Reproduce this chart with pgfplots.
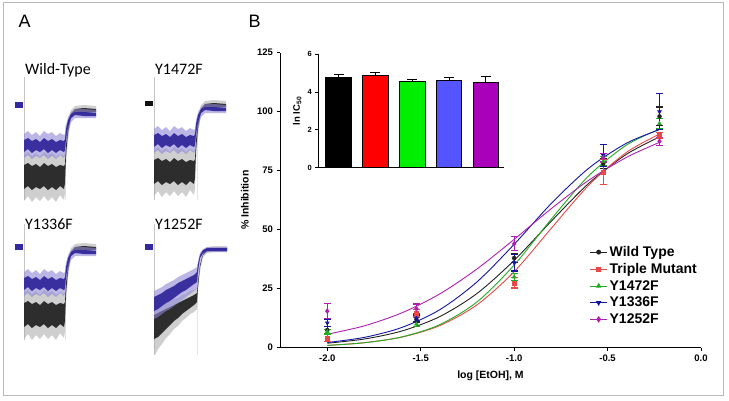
\documentclass[border=0pt]{standalone}
\usepackage{pgfplots}
\pgfplotsset{compat=1.18}
\usepackage{pgfplotstable}
\usepackage{fontspec}
\setmainfont{Liberation Sans}
\newfontfamily\carlito{Carlito}
\definecolor{cWT}{HTML}{222222}
\definecolor{cTM}{HTML}{E84848}
\definecolor{cYa}{HTML}{22AA22}
\definecolor{cYb}{HTML}{1515A5}
\definecolor{cYc}{HTML}{B020B0}
\definecolor{trBlue}{HTML}{33289C}
\definecolor{trBlueL}{HTML}{8E86D6}
\definecolor{trBlk}{HTML}{111111}
\definecolor{trGray}{HTML}{A8A8A8}
\definecolor{barG}{HTML}{00EE00}
\definecolor{barB}{HTML}{5555FF}
\definecolor{barM}{HTML}{AA00BB}

% ---------- panel A trace shapes (local pixel coords: t right, v down) ----------
\pgfplotstableread{
t v
0 50
4 47
8 51
12 48
16 52
20 47
24 50
28 48
32 52
36 49
40 51
41 50
42 33
44 16
47 5
51 1
60 0
72 1
72 9
60 10
51 9
47 14
44 35
42 60
41 88
40 95
36 90
32 97
28 92
24 96
20 91
16 96
12 92
8 97
4 91
0 96
}\wtBO
\pgfplotstableread{
t v
0 60
4 58
8 61
12 59
16 62
20 58
24 61
28 59
32 62
36 60
40 61
41 59
42 40
44 20
47 9
51 4
60 3
72 4
72 7
60 8
51 7
47 11
44 28
42 50
41 78
40 84
36 81
32 85
28 82
24 85
20 81
16 84
12 82
8 85
4 81
0 84
}\wtBI
\pgfplotstableread{
t v
0 29
4 26
8 30
12 27
16 31
20 26
24 29
28 27
32 31
36 28
40 30
41 29
42 20
44 12
47 7
51 4
60 4
72 5
72 13
60 13
51 13
47 17
44 28
42 40
41 50
40 53
36 50
32 54
28 51
24 54
20 50
16 53
12 51
8 54
4 50
0 53
}\wtLO
\pgfplotstableread{
t v
0 35
4 33
8 36
12 34
16 37
20 33
24 36
28 34
32 37
36 35
40 36
41 34
42 24
44 15
47 9
51 7
60 7
72 8
72 11
60 11
51 10
47 13
44 22
42 34
41 45
40 47
36 45
32 48
28 45
24 48
20 44
16 47
12 45
8 48
4 44
0 47
}\wtLI
\pgfplotstableread{
t v
0 62
4 58
8 58
12 55
16 55
20 52
24 51
28 48
32 47
36 44
40 43
43 41
44 30
46 15
49 5
53 0
60 -1
73 -1
73 5
60 5
53 6
49 10
46 25
44 45
43 62
40 65
36 67
32 71
28 74
24 79
20 82
16 87
12 91
8 97
4 102
1 108
0 100
}\ybBO
\pgfplotstableread{
t v
0 68
4 66
8 64
12 62
16 60
20 58
24 56
28 54
32 52
36 50
40 48
43 46
44 35
46 18
49 7
53 2
60 1
73 1
73 3
60 3
53 4
49 8
46 20
44 40
43 55
40 58
36 61
32 64
28 67
24 71
20 74
16 78
12 82
8 86
4 90
0 92
}\ybBI
\pgfplotstableread{
t v
0 44
4 42
8 40
12 37
16 35
20 33
24 30
28 28
32 26
36 24
40 22
43 20
44 14
46 6
49 2
53 0
60 0
73 0
73 5
60 5
53 5
49 8
46 14
44 30
43 41
40 44
36 47
32 50
28 53
24 56
20 59
16 62
12 64
8 67
4 70
0 72
}\ybLO
\pgfplotstableread{
t v
0 50
4 48
8 46
12 43
16 41
20 39
24 36
28 34
32 32
36 30
40 28
43 25
44 17
46 8
49 3
53 1
60 1
73 1
73 4
60 4
53 4
49 6
46 11
44 24
43 35
40 37
36 40
32 43
28 45
24 48
20 51
16 54
12 56
8 59
4 62
0 64
}\ybLI

% ---------- panel B data ----------
\pgfplotstableread{
x y e
-2.0 7.5 1.5
-1.523 12 1.5
-1.0 38 2
-0.523 78 2
-0.222 98 4
}\ptsWT
\pgfplotstableread{
x y e
-2.0 4.2 1.5
-1.523 14.5 1.5
-1.0 27.5 2.2
-0.523 74.5 5.4
-0.222 90 1.2
}\ptsTM
\pgfplotstableread{
x y e
-2.0 6.8 1
-1.523 10 1
-1.0 30 1.5
-0.523 79 2
-0.222 95 2
}\ptsYa
\pgfplotstableread{
x y e
-2.0 10.5 1.5
-1.523 12.5 1.5
-1.0 36 3.5
-0.523 81.5 4.6
-0.222 100 7.6
}\ptsYb
\pgfplotstableread{
x y e
-2.0 15.5 3.3
-1.523 16.5 2
-1.0 44 3
-0.523 80.5 1.8
-0.222 87.5 1.7
}\ptsYc
% fitted curves
\pgfplotstableread{
x y
-2.0 1.9
-1.8 3.7
-1.6 7.1
-1.4 13.1
-1.2 22.9
-1.0 37.0
-0.8 53.7
-0.6 69.7
-0.4 81.9
-0.222 89.3
}\crvWT
\pgfplotstableread{
x y
-2.0 1.0
-1.8 2.15
-1.6 4.5
-1.4 9.3
-1.2 18.1
-1.0 32.2
-0.8 50.7
-0.6 68.9
-0.4 82.7
-0.222 90.5
}\crvTM
\pgfplotstableread{
x y
-2.0 0.95
-1.8 2.1
-1.6 4.6
-1.4 9.7
-1.2 19.3
-1.0 35.0
-0.8 54.6
-0.6 72.9
-0.4 85.8
-0.222 92.6
}\crvYa
\pgfplotstableread{
x y
-2.0 2.2
-1.8 4.4
-1.6 8.6
-1.4 16.0
-1.2 27.8
-1.0 43.8
-0.8 61.2
-0.6 76.1
-0.4 86.6
-0.222 92.4
}\crvYb
\pgfplotstableread{
x y
-2.0 5.7
-1.8 9.3
-1.6 14.8
-1.4 22.7
-1.2 33.3
-1.0 45.9
-0.8 59.0
-0.6 71.0
-0.4 80.6
-0.222 87.0
}\crvYc

\newcommand{\trace}[6]{%
 \addplot[fill=trGray,draw=none,fill opacity=0.55] table[x expr=\thisrow{t}+#1, y expr=\thisrow{v}+#2] {#3};
 \addplot[fill=trBlk,draw=none,fill opacity=0.85] table[x expr=\thisrow{t}+#1, y expr=\thisrow{v}+#2] {#4};
 \addplot[fill=trBlueL,draw=none,fill opacity=0.6] table[x expr=\thisrow{t}+#1, y expr=\thisrow{v}+#2] {#5};
 \addplot[fill=trBlue,draw=none,fill opacity=0.95] table[x expr=\thisrow{t}+#1, y expr=\thisrow{v}+#2] {#6};
}

\begin{document}
\begin{tikzpicture}
\useasboundingbox (0,0) rectangle (729pt,400pt);
\draw[color=gray!55, line width=1pt] (3.3pt,4.5pt) rectangle (723.5pt,397.3pt);

% ================= Panel A =================
\begin{axis}[at={(0pt,0pt)}, anchor=south west, scale only axis, width=729pt, height=400pt,
  xmin=0, xmax=729, ymin=0, ymax=400, y dir=reverse, hide axis, clip=false]
 % stimulus markers
 \addplot[gray!45, line width=0.5pt] coordinates {(24,77) (24,200)};
 \addplot[gray!45, line width=0.5pt] coordinates {(154,77) (154,200)};
 \addplot[gray!45, line width=0.5pt] coordinates {(24,224) (24,340)};
 \addplot[gray!45, line width=0.5pt] coordinates {(154,224) (154,355)};
 \addplot[gray!20, line width=0.5pt] coordinates {(65,125) (65,200)};
 \addplot[gray!20, line width=0.5pt] coordinates {(197,120) (197,200)};
 \addplot[gray!20, line width=0.5pt] coordinates {(65,265) (65,340)};
 \addplot[gray!20, line width=0.5pt] coordinates {(197,265) (197,355)};
 % baselines
 \addplot[fill=trBlue, draw=none] coordinates {(15,102) (23,102) (23,108) (15,108)};
 \addplot[fill=trBlk, draw=none] coordinates {(145,101) (153,101) (153,106) (145,106)};
 \addplot[fill=trBlue, draw=none] coordinates {(15,244) (23,244) (23,250) (15,250)};
 \addplot[fill=trBlue, draw=none] coordinates {(145,244) (153,244) (153,250) (145,250)};
 % traces
 \trace{24}{105}{\wtBO}{\wtBI}{\wtLO}{\wtLI}
 \trace{154}{100}{\wtBO}{\wtBI}{\wtLO}{\wtLI}
 \trace{24}{243}{\wtBO}{\wtBI}{\wtLO}{\wtLI}
 \trace{154}{247}{\ybBO}{\ybBI}{\ybLO}{\ybLI}
\end{axis}
\node[anchor=base west, font=\fontsize{18}{20}\selectfont] at (15pt,372pt) {A};
\node[anchor=base west, font=\fontsize{18}{20}\selectfont] at (245pt,372pt) {B};
\node[anchor=base west, inner sep=0pt, font=\carlito\fontsize{16}{18}\selectfont] at (25pt,325pt) {Wild-Type};
\node[anchor=base west, inner sep=0pt, font=\carlito\fontsize{16}{18}\selectfont] at (155pt,325pt) {Y1472F};
\node[anchor=base west, inner sep=0pt, font=\carlito\fontsize{16}{18}\selectfont] at (25pt,171pt) {Y1336F};
\node[anchor=base west, inner sep=0pt, font=\carlito\fontsize{16}{18}\selectfont] at (155pt,171pt) {Y1252F};

% ================= Panel B main =================
\begin{axis}[at={(280pt,52.3pt)}, anchor=south west, scale only axis, width=421pt, height=295pt,
  xmin=-2.253, xmax=0, ymin=0, ymax=125,
  axis x line*=bottom, axis y line*=left, axis line style={line width=0.9pt, -},
  tick align=outside, major tick length=3.5pt, tick style={line width=0.9pt, black},
  xtick={-2,-1.5,-1,-0.5,0}, xticklabels={-2.0,-1.5,-1.0,-0.5,0.0},
  ytick={0,25,50,75,100,125},
  tick label style={font=\bfseries\fontsize{9.5}{11}\selectfont},
  /pgf/number format/assume math mode=true,
  xlabel={log [EtOH], M}, ylabel={\% Inhibition},
  label style={font=\bfseries\fontsize{10.5}{12}\selectfont},
  xlabel style={at={(axis description cs:0.5,-0.068)}, anchor=north},
  ylabel style={at={(axis description cs:-0.066,0.5)}, anchor=south},
  legend style={draw=none, fill=none, at={(axis description cs:0.728,0.358)}, anchor=north west,
    font=\bfseries\fontsize{14}{16}\selectfont, row sep=1.4pt},
  legend cell align=left]
 \addplot[cWT, line width=0.9pt, smooth, forget plot] table {\crvWT};
 \addplot[cTM, line width=0.9pt, smooth, forget plot] table {\crvTM};
 \addplot[cYa, line width=0.9pt, smooth, forget plot] table {\crvYa};
 \addplot[cYb, line width=0.9pt, smooth, forget plot] table {\crvYb};
 \addplot[cYc, line width=0.9pt, smooth, forget plot] table {\crvYc};
 \addplot[cWT, only marks, mark=*, mark size=2pt, forget plot,
   error bars/.cd, y dir=both, y explicit, error bar style={cWT, line width=1.1pt},
   error mark options={rotate=90, cWT, mark size=3.5pt, line width=1.1pt}] table[x=x, y=y, y error=e] {\ptsWT};
 \addplot[cTM, only marks, mark=square*, mark size=2pt, forget plot,
   error bars/.cd, y dir=both, y explicit, error bar style={cTM, line width=1.1pt},
   error mark options={rotate=90, cTM, mark size=3.5pt, line width=1.1pt}] table[x=x, y=y, y error=e] {\ptsTM};
 \addplot[cYa, only marks, mark=triangle*, mark size=2.3pt, forget plot,
   error bars/.cd, y dir=both, y explicit, error bar style={cYa, line width=1.1pt},
   error mark options={rotate=90, cYa, mark size=3.5pt, line width=1.1pt}] table[x=x, y=y, y error=e] {\ptsYa};
 \addplot[cYb, only marks, mark=triangle*, mark options={rotate=180}, mark size=2.3pt, forget plot,
   error bars/.cd, y dir=both, y explicit, error bar style={cYb, line width=1.1pt},
   error mark options={rotate=90, cYb, mark size=3.5pt, line width=1.1pt}] table[x=x, y=y, y error=e] {\ptsYb};
 \addplot[cYc, only marks, mark=diamond*, mark size=2.5pt, forget plot,
   error bars/.cd, y dir=both, y explicit, error bar style={cYc, line width=1.1pt},
   error mark options={rotate=90, cYc, mark size=3.5pt, line width=1.1pt}] table[x=x, y=y, y error=e] {\ptsYc};
 \addlegendimage{cWT, line width=0.9pt, mark=*, mark size=2pt}
 \addlegendentry{Wild Type}
 \addlegendimage{cTM, line width=0.9pt, mark=square*, mark size=2pt}
 \addlegendentry{Triple Mutant}
 \addlegendimage{cYa, line width=0.9pt, mark=triangle*, mark size=2.3pt}
 \addlegendentry{Y1472F}
 \addlegendimage{cYb, line width=0.9pt, mark=triangle*, mark options={rotate=180}, mark size=2.3pt}
 \addlegendentry{Y1336F}
 \addlegendimage{cYc, line width=0.9pt, mark=diamond*, mark size=2.5pt}
 \addlegendentry{Y1252F}
\end{axis}

% ================= Panel B inset =================
\begin{axis}[at={(318.3pt,232.3pt)}, anchor=south west, scale only axis, width=186pt, height=113.4pt,
  xmin=-0.55, xmax=4.5, ymin=0, ymax=6,
  axis x line*=bottom, axis y line*=left, axis line style={line width=0.9pt, -},
  xtick=\empty, ytick={0,2,4,6},
  tick align=outside, major tick length=3pt, tick style={line width=0.9pt, black},
  tick label style={font=\bfseries\fontsize{7.5}{8}\selectfont},
  /pgf/number format/assume math mode=true,
  ylabel={ln IC\textsubscript{50}},
  ylabel style={font=\bfseries\fontsize{9.5}{10}\selectfont, at={(axis description cs:-0.072,0.5)}, anchor=south},
  clip=false]
 \addplot[ybar, bar width=25.5pt, bar shift=0pt, fill=black, draw=black, line width=0.9pt,
   error bars/.cd, y dir=plus, y explicit, error bar style={black, line width=0.9pt},
   error mark options={rotate=90, black, mark size=5pt, line width=0.9pt}] coordinates {(0,4.79) +- (0,0.13)};
 \addplot[ybar, bar width=25.5pt, bar shift=0pt, fill=red, draw=black, line width=0.9pt,
   error bars/.cd, y dir=plus, y explicit, error bar style={black, line width=0.9pt},
   error mark options={rotate=90, black, mark size=5pt, line width=0.9pt}] coordinates {(1,4.90) +- (0,0.14)};
 \addplot[ybar, bar width=25.5pt, bar shift=0pt, fill=barG, draw=black, line width=0.9pt,
   error bars/.cd, y dir=plus, y explicit, error bar style={black, line width=0.9pt},
   error mark options={rotate=90, black, mark size=5pt, line width=0.9pt}] coordinates {(2,4.55) +- (0,0.14)};
 \addplot[ybar, bar width=25.5pt, bar shift=0pt, fill=barB, draw=black, line width=0.9pt,
   error bars/.cd, y dir=plus, y explicit, error bar style={black, line width=0.9pt},
   error mark options={rotate=90, black, mark size=5pt, line width=0.9pt}] coordinates {(3,4.62) +- (0,0.14)};
 \addplot[ybar, bar width=25.5pt, bar shift=0pt, fill=barM, draw=black, line width=0.9pt,
   error bars/.cd, y dir=plus, y explicit, error bar style={black, line width=0.9pt},
   error mark options={rotate=90, black, mark size=5pt, line width=0.9pt}] coordinates {(4,4.53) +- (0,0.28)};
\end{axis}
\end{tikzpicture}
\end{document}
